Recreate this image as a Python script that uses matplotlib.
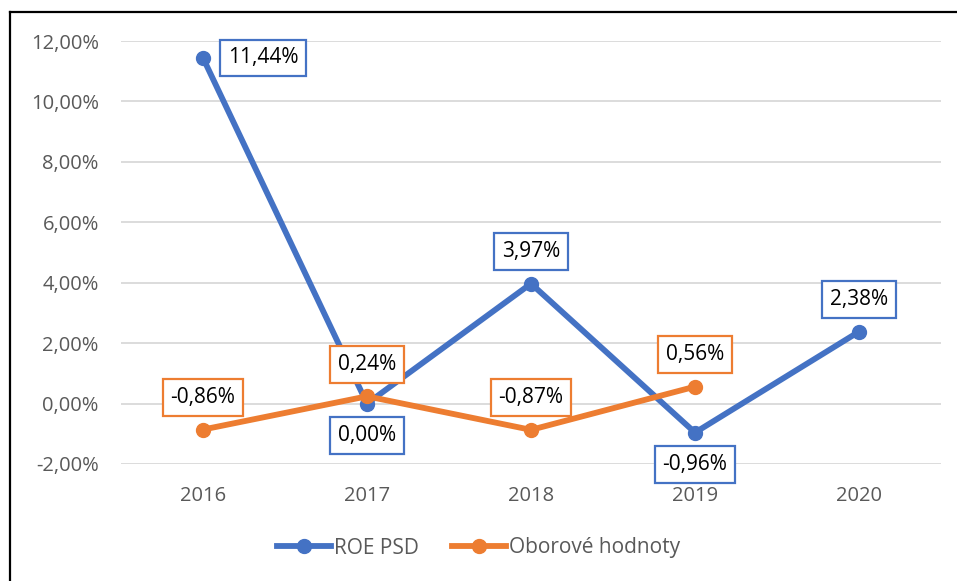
import matplotlib
matplotlib.use("Agg")
import matplotlib.pyplot as plt
from matplotlib.lines import Line2D

years = ["2016", "2017", "2018", "2019", "2020"]
roe_psd = [11.44, 0.00, 3.97, -0.96, 2.38]
oborove = [-0.86, 0.24, -0.87, 0.56]
roe_label_pos = ["right", "below", "above", "below", "above"]
obor_label_pos = ["above", "above", "above", "above"]

BLUE = "#4472C4"
ORANGE = "#ED7D31"
GRID = "#D9D9D9"
TXT = "#595959"

plt.rcParams['font.family'] = ['Open Sans', 'DejaVu Sans']

W, H = 957, 581
fig = plt.figure(figsize=(W/100, H/100), dpi=100)
ax = fig.add_axes([121/W, 1-464/H, (941-121)/W, (464-41)/H])

x = list(range(len(years)))
ax.plot(x, roe_psd, color=BLUE, lw=4.2, marker='o', ms=10, solid_capstyle='round', zorder=3)
ax.plot(x[:len(oborove)], oborove, color=ORANGE, lw=4.2, marker='o', ms=10, solid_capstyle='round', zorder=4)

ax.set_xlim(-0.5, 4.5)
ax.set_ylim(-2, 12)
ax.set_yticks(range(-2, 13, 2))
ax.set_yticklabels([f"{v:.2f}%".replace(".", ",") for v in range(-2, 13, 2)])
ax.set_xticks(x)
ax.set_xticklabels(years)
ax.tick_params(axis='both', length=0, labelsize=14.5, colors=TXT)
ax.tick_params(axis='y', pad=16)
ax.tick_params(axis='x', pad=16)
for s in ax.spines.values():
    s.set_visible(False)
ax.grid(axis='y', color=GRID, lw=1.3)
ax.set_axisbelow(True)

def fmt(v):
    return f"{v:.2f}%".replace(".", ",")

def label(xi, v, pos, col):
    # offsets in pixels (dpi 100) converted to points
    off = {"right": (25, 0), "above": (0, 32), "below": (0, -32)}[pos]
    ax.annotate(fmt(v), (xi, v), xytext=(off[0]*0.72, off[1]*0.72), textcoords='offset points',
                ha='left' if pos == 'right' else 'center', va='center',
                fontsize=15, color='black', zorder=6,
                bbox=dict(boxstyle='square,pad=0.38', fc='white', ec=col, lw=1.6))

for xi, v, p in zip(x, roe_psd, roe_label_pos):
    label(xi, v, p, BLUE)
for xi, v, p in zip(x, oborove, obor_label_pos):
    label(xi, v, p, ORANGE)

handles = [Line2D([], [], color=BLUE, lw=4.2, marker='o', ms=10),
           Line2D([], [], color=ORANGE, lw=4.2, marker='o', ms=10)]
fig.legend(handles, ["ROE PSD", "Oborové hodnoty"], loc='center', bbox_to_anchor=(0.5, 1-548/H),
           ncol=2, frameon=False, fontsize=15, labelcolor=TXT, handlelength=2.6,
           handletextpad=0.15, columnspacing=1.6)

# figure border (only left and top visible)
fig.add_artist(Line2D([9.5/W, 9.5/W], [0, 1-12/H], color='black', lw=1.6, transform=fig.transFigure))
fig.add_artist(Line2D([9.5/W, 1], [1-12/H, 1-12/H], color='black', lw=1.6, transform=fig.transFigure))

fig.savefig("out.png", dpi=100)
